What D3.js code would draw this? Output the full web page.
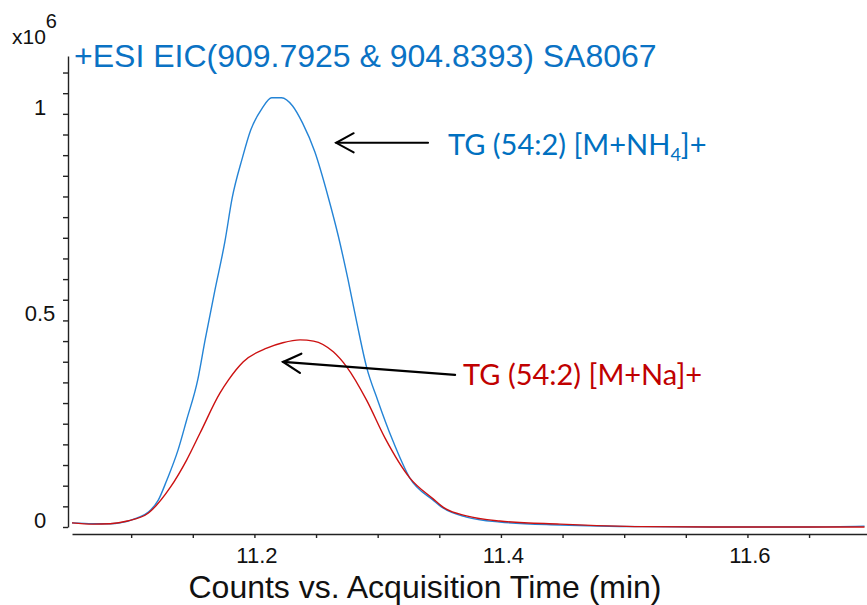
<!DOCTYPE html>
<html>
<head>
<meta charset="utf-8">
<script src="https://cdn.jsdelivr.net/npm/d3@7"></script>
<style>
  html, body { margin: 0; padding: 0; background: #ffffff; }
  svg { display: block; }
</style>
</head>
<body>
<svg id="chart" width="867" height="605"></svg>
<script>
// ---- data (time in min, counts in x10^6) ----
const blueTimes = [11.052, 11.069, 11.083, 11.091, 11.105, 11.114, 11.122, 11.129, 11.138, 11.145,
  11.154, 11.160, 11.168, 11.176, 11.182, 11.190, 11.197, 11.206, 11.214, 11.222,
  11.231, 11.239, 11.249, 11.260, 11.268, 11.276, 11.283, 11.291, 11.300, 11.312,
  11.326, 11.345, 11.353, 11.372, 11.399, 11.448, 11.515, 11.600, 11.650, 11.695];
const blueValues = [0.010, 0.008, 0.008, 0.010, 0.022, 0.036, 0.065, 0.114, 0.186, 0.259,
  0.356, 0.453, 0.574, 0.690, 0.797, 0.891, 0.961, 1.012, 1.039, 1.039,
  1.019, 0.978, 0.908, 0.797, 0.705, 0.598, 0.496, 0.387, 0.307, 0.211,
  0.119, 0.065, 0.046, 0.024, 0.012, 0.005, 0.001, 0.000, 0.000, 0.002];

const redTimes = [11.052, 11.069, 11.083, 11.097, 11.114, 11.132, 11.145, 11.156, 11.172, 11.179,
  11.185, 11.191, 11.210, 11.223, 11.237, 11.248, 11.264, 11.275, 11.291, 11.306,
  11.326, 11.345, 11.353, 11.372, 11.399, 11.448, 11.515, 11.600, 11.695];
const redValues = [0.010, 0.007, 0.008, 0.0145, 0.034, 0.097, 0.162, 0.228, 0.324, 0.356,
  0.380, 0.400, 0.433, 0.446, 0.453, 0.450, 0.424, 0.387, 0.307, 0.215,
  0.119, 0.068, 0.048, 0.027, 0.0145, 0.007, 0.001, 0.000, 0.000];

const xTickValues = [11.1, 11.15, 11.2, 11.25, 11.3, 11.35, 11.4, 11.45, 11.5, 11.55, 11.6, 11.65];
const xTickLabels = ["", "", "11.2", "", "", "", "11.4", "", "", "", "11.6", ""];
const yTickValues = [0, 0.05, 0.1, 0.15, 0.2, 0.25, 0.3, 0.35, 0.4, 0.45, 0.5, 0.55, 0.6, 0.65, 0.7, 0.75, 0.8, 0.85, 0.9, 0.95, 1.0, 1.05, 1.1];
const yLabelValues = [0, 0.5, 1];
const yLabelTexts = ["0", "0.5", "1"];

const titleText = "+ESI EIC(909.7925 & 904.8393) SA8067";
const xAxisTitle = "Counts vs. Acquisition Time (min)";

// annotation anchors in data units: [tipTime, tipValue, tailTime, tailValue]
const arrowNH4 = [11.2663, 0.930, 11.3409, 0.930];
const arrowNa = [11.2233, 0.3995, 11.3628, 0.368];
const labelNH4Pos = [11.3571, 0.9007];
const labelNaPos = [11.3693, 0.3438];

// ---- drawing ----
const svg = d3.select("#chart");
const font = "'Liberation Sans', Arial, sans-serif";
const x = d3.scaleLinear().domain([11.052, 11.697]).range([72, 867]);
const y = d3.scaleLinear().domain([0, 1.14]).range([527, 56]);

svg.append("rect").attr("width", 867).attr("height", 605).attr("fill", "#fff");

// y axis
const yAxis = svg.append("g").attr("transform", "translate(68,0)")
  .call(d3.axisLeft(y).tickValues(yTickValues).tickSize(5).tickSizeOuter(0).tickFormat(""));
yAxis.selectAll("path, line").attr("stroke", "#222").attr("stroke-width", 1.4);

svg.append("g").selectAll("text").data(yLabelValues).join("text")
  .attr("x", 40).attr("y", d => y(d) + 1)
  .attr("text-anchor", "middle")
  .attr("font-family", font).attr("font-size", 22).attr("fill", "#111")
  .text((d, i) => yLabelTexts[i]);

// x axis
const xAxis = svg.append("g").attr("transform", "translate(0,534)")
  .call(d3.axisBottom(x).tickValues(xTickValues).tickSize(4).tickSizeOuter(0).tickPadding(9)
    .tickFormat((d, i) => xTickLabels[i]));
xAxis.selectAll("path, line").attr("stroke", "#222").attr("stroke-width", 1.4);
xAxis.selectAll("text").attr("font-family", font).attr("font-size", 22).attr("fill", "#111")
  .attr("dx", 2);

// exponent
const ex = svg.append("text").attr("x", 12).attr("y", 44)
  .attr("font-family", font).attr("font-size", 21).attr("fill", "#111");
ex.append("tspan").text("x10");
ex.append("tspan").attr("dy", -16).attr("font-size", 20).text("6");

// title
svg.append("text").attr("x", 74).attr("y", 67)
  .attr("font-family", font).attr("font-size", 32).attr("fill", "#0a72c4")
  .text(titleText);

// x axis title
svg.append("text").attr("x", 425).attr("y", 598).attr("text-anchor", "middle")
  .attr("font-family", font).attr("font-size", 32).attr("fill", "#111")
  .text(xAxisTitle);

// lines
const line = d3.line().x(d => x(d[0])).y(d => y(d[1])).curve(d3.curveMonotoneX);
const blueData = blueTimes.map((t, i) => [t, blueValues[i]]);
const redData = redTimes.map((t, i) => [t, redValues[i]]);

svg.append("path").datum(blueData).attr("d", line)
  .attr("fill", "none").attr("stroke", "#2484d6").attr("stroke-width", 1.4);
svg.append("path").datum(redData).attr("d", line)
  .attr("fill", "none").attr("stroke", "#cc1111").attr("stroke-width", 1.4);

// arrows
function drawArrow(a, w) {
  const tx = x(a[0]), ty = y(a[1]), sx = x(a[2]), sy = y(a[3]);
  const ang = Math.atan2(sy - ty, sx - tx);
  const g = svg.append("g").attr("stroke", "#000").attr("stroke-width", w).attr("fill", "none")
    .attr("stroke-linecap", "round");
  g.append("line").attr("x1", sx).attr("y1", sy).attr("x2", tx).attr("y2", ty);
  const len = 20, spread = 0.5;
  const p1 = [tx + len * Math.cos(ang - spread), ty + len * Math.sin(ang - spread)];
  const p2 = [tx + len * Math.cos(ang + spread), ty + len * Math.sin(ang + spread)];
  g.append("path").attr("d", `M${p1[0]},${p1[1]}L${tx},${ty}L${p2[0]},${p2[1]}`);
}
drawArrow(arrowNH4, 2);
drawArrow(arrowNa, 2.2);

// labels
const labFont = "Lato, 'Open Sans', sans-serif";
const l1 = svg.append("text").attr("x", x(labelNH4Pos[0])).attr("y", y(labelNH4Pos[1]))
  .attr("font-family", labFont).attr("font-size", 29).attr("fill", "#0070c0");
l1.append("tspan").text("TG (54:2) [M+NH");
l1.append("tspan").attr("dy", 6).attr("font-size", 18).text("4");
l1.append("tspan").attr("dy", -6).text("]+");

svg.append("text").attr("x", x(labelNaPos[0])).attr("y", y(labelNaPos[1]))
  .attr("font-family", labFont).attr("font-size", 29).attr("fill", "#c00000")
  .text("TG (54:2) [M+Na]+");
</script>
</body>
</html>
